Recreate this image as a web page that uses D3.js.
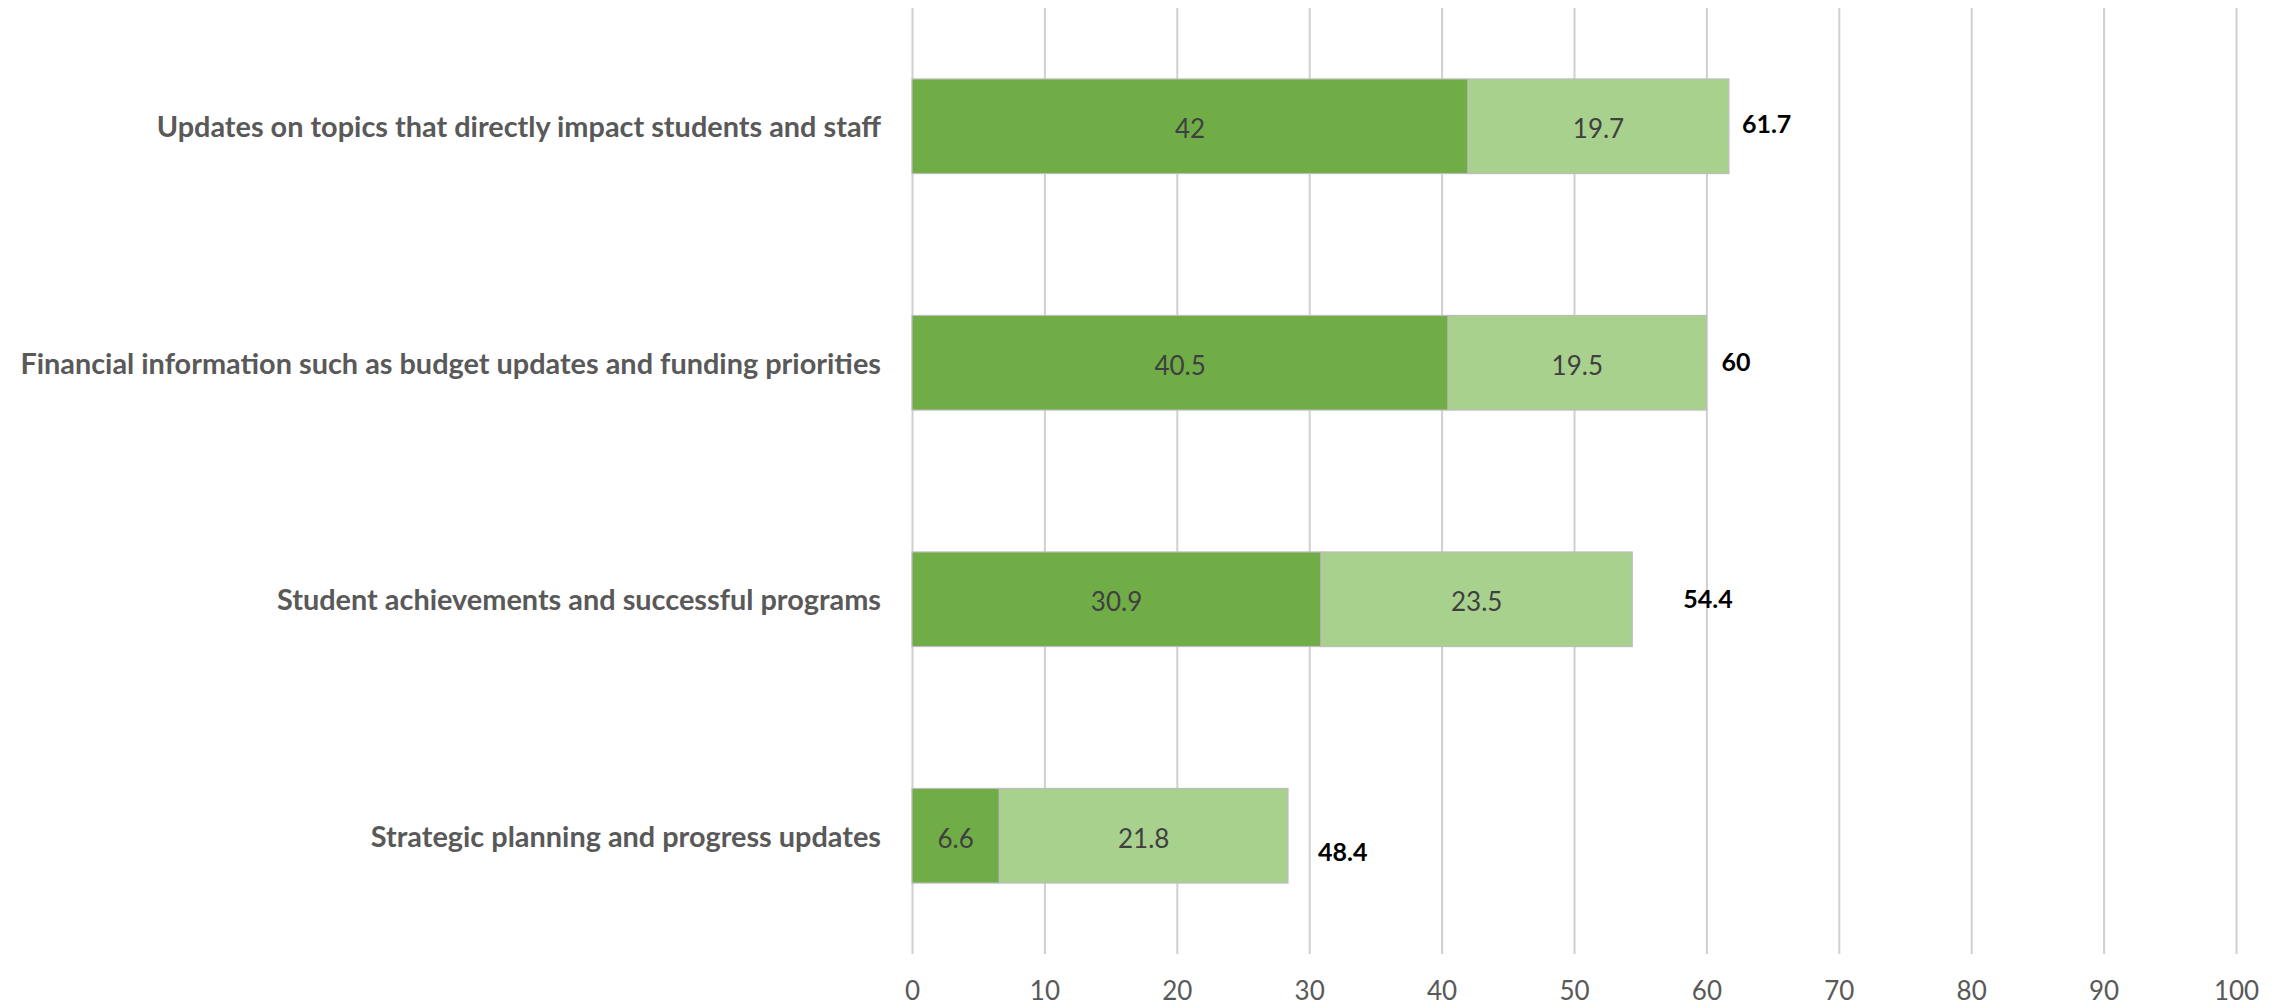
<!DOCTYPE html>
<html>
<head>
<meta charset="utf-8">
<script src="https://cdn.jsdelivr.net/npm/d3@7"></script>
<style>
  html, body { margin: 0; padding: 0; background: #fff; }
  svg text { font-family: Lato, "Open Sans", "Liberation Sans", sans-serif; }
</style>
</head>
<body>
<svg id="chart"></svg>
<script>
// chart values
var categories = [
  'Updates on topics that directly impact students and staff',
  'Financial information such as budget updates and funding priorities',
  'Student achievements and successful programs',
  'Strategic planning and progress updates'
];
var firstPart = [42, 40.5, 30.9, 6.6];
var secondPart = [19.7, 19.5, 23.5, 21.8];
var totals = ['61.7', '60', '54.4', '48.4'];
var xTicks = [0, 10, 20, 30, 40, 50, 60, 70, 80, 90, 100];

// hand-placed total labels in the original, nudged off the bar end
var totalNudge = [[13, -3], [15, -2], [51, -1], [30, 15]];

var width = 2285, height = 1008;
var margin = { top: 8, right: 49, bottom: 54, left: 912 };
var colors = ['#70AD47', '#A9D18E'];

var svg = d3.select('#chart')
  .attr('width', width)
  .attr('height', height);

var rows = categories.map(function (c, i) {
  return { cat: c, first: firstPart[i], second: secondPart[i], total: totals[i], i: i };
});

var x = d3.scaleLinear()
  .domain([0, 100])
  .range([margin.left, width - margin.right]);

var y = d3.scaleBand()
  .domain(categories)
  .range([margin.top, height - margin.bottom])
  .paddingInner(0.6)
  .paddingOuter(0.3);

var plotH = height - margin.bottom - margin.top;

// grid + tick labels
var axis = svg.append('g')
  .attr('class', 'axis')
  .attr('transform', 'translate(0,' + (height - margin.bottom) + ')')
  .call(d3.axisBottom(x)
    .tickValues(xTicks)
    .tickSize(-plotH)
    .tickPadding(28));

axis.select('.domain').remove();
axis.selectAll('line')
  .attr('stroke', '#D0D0D0')
  .attr('stroke-width', 2);
axis.selectAll('text')
  .attr('fill', '#595959')
  .style('font-size', '26px');

// stacked bars
var stack = d3.stack().keys(['first', 'second']);
var layers = stack(rows);

var g = svg.append('g');

layers.forEach(function (layer, li) {
  g.selectAll('.bar-' + li)
    .data(layer)
    .enter()
    .append('rect')
    .attr('class', 'bar-' + li)
    .attr('x', function (d) { return x(d[0]); })
    .attr('y', function (d) { return y(d.data.cat); })
    .attr('width', function (d) { return x(d[1]) - x(d[0]); })
    .attr('height', y.bandwidth())
    .attr('fill', colors[li])
    .attr('stroke', '#BDBDBD')
    .attr('stroke-width', 1.2);

  g.selectAll('.val-' + li)
    .data(layer)
    .enter()
    .append('text')
    .attr('class', 'val-' + li)
    .attr('x', function (d) { return (x(d[0]) + x(d[1])) / 2; })
    .attr('y', function (d) { return y(d.data.cat) + y.bandwidth() / 2 + 2; })
    .attr('text-anchor', 'middle')
    .attr('dominant-baseline', 'central')
    .attr('fill', '#404040')
    .style('font-size', '26px')
    .text(function (d) { return d.data[layer.key]; });
});

// totals
g.selectAll('.total')
  .data(rows)
  .enter()
  .append('text')
  .attr('class', 'total')
  .attr('x', function (d) { return x(d.first + d.second) + totalNudge[d.i][0]; })
  .attr('y', function (d) { return y(d.cat) + y.bandwidth() / 2 + totalNudge[d.i][1]; })
  .attr('dominant-baseline', 'central')
  .attr('fill', '#000')
  .style('font-size', '25px')
  .style('font-weight', 'bold')
  .text(function (d) { return d.total; });

// category labels, sized so the longest one spans like the original
var labels = svg.append('g')
  .selectAll('text')
  .data(rows)
  .enter()
  .append('text')
  .attr('x', margin.left - 31)
  .attr('y', function (d) { return y(d.cat) + y.bandwidth() / 2; })
  .attr('text-anchor', 'end')
  .attr('dominant-baseline', 'central')
  .attr('fill', '#595959')
  .style('font-weight', 'bold')
  .style('font-size', '100px')
  .text(function (d) { return d.cat; });

var longest = d3.max(labels.nodes(), function (n) { return n.getComputedTextLength(); });
var fitSize = Math.min(30, 100 * 861 / longest);
labels.style('font-size', fitSize + 'px');
</script>
</body>
</html>
